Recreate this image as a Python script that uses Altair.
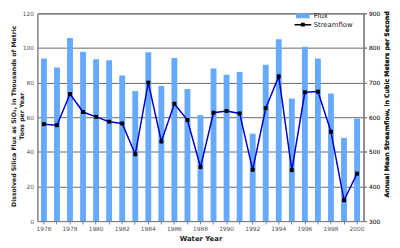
import altair as alt
import pandas as pd

years = list(range(1976, 2001))
flux = [94.0, 88.7, 105.8, 97.9, 93.5, 92.9, 84.1, 75.2, 97.5, 78.0, 94.2, 76.3,
        61.2, 88.1, 84.6, 86.1, 50.5, 90.3, 105.1, 70.8, 100.7, 94.0, 73.7, 48.1, 59.2]
streamflow = [580, 577, 667, 615, 601, 587, 582, 493, 700, 530, 639, 592,
              456, 613, 618, 611, 448, 626, 718, 447, 672, 674, 558, 360, 437]
series = ["Flux", "Streamflow"]

df = pd.DataFrame({"year": years, "flux": flux, "streamflow": streamflow})
leg = pd.DataFrame({"series": series})

FONT = "DejaVu Sans"
H = 212

x = alt.X("year:O", scale=alt.Scale(paddingInner=0.55, paddingOuter=0.275),
          axis=alt.Axis(title="Water Year", labelAngle=0,
                        labelExpr="datum.value % 2 == 0 ? datum.label : ''",
                        tickSize=3, labelPadding=2, titlePadding=3, titleFontSize=7,
                        domainColor="#808080", tickColor="#808080"))

bars = alt.Chart(df).mark_bar(color="#66aaff").encode(
    x=x,
    y=alt.Y("flux:Q", scale=alt.Scale(domain=[0, 120]),
            axis=alt.Axis(title=["Dissolved Silica Flux as SiO₂, in Thousands of Metric",
                                 "Tons per Year"],
                          values=[0, 20, 40, 60, 80, 100, 120], grid=True,
                          gridColor="#666666", gridWidth=1, ticks=False,
                          labelPadding=4, titleX=-21, titleY=104.5,
                          titleBaseline="bottom", titleAngle=270, titleLineHeight=8,
                          domainColor="#808080")),
)

yr = alt.Y("streamflow:Q", scale=alt.Scale(domain=[300, 900]),
           axis=alt.Axis(orient="right", title="Annual Mean Streamflow, in Cubic Meters per Second",
                         values=[300, 400, 500, 600, 700, 800, 900], grid=False,
                         tickSize=3, labelPadding=2, titleAngle=270,
                         titleX=23, titleY=92.5, titleBaseline="middle",
                         tickColor="#808080", domainColor="#808080"))

line = alt.Chart(df).mark_line(color="#0000cc", strokeWidth=1.5).encode(x=x, y=yr)
pts = alt.Chart(df).mark_point(shape="square", filled=True, color="#000000",
                               size=16, opacity=1).encode(x=x, y=yr)

legend_layer = alt.Chart(leg).mark_point(filled=True, opacity=1).encode(
    color=alt.Color("series:N",
                    scale=alt.Scale(domain=series, range=["#66aaff", "#000000"]),
                    legend=alt.Legend(title=None, orient="none", legendX=265, legendY=-3.5,
                                      symbolSize=100, labelFontSize=7, labelFont=FONT,
                                      labelColor="#222222", rowPadding=0, labelOffset=5,
                                      padding=0)),
    shape=alt.Shape("series:N",
                    scale=alt.Scale(domain=series,
                                    range=["M-1.4,-0.5H1.4V0.5H-1.4Z",
                                           "M-1.7,-0.15H1.7V0.15H-1.7Z M-0.4,-0.4H0.4V0.4H-0.4Z"]),
                    legend=None),
).transform_filter("false")

chart = alt.layer(bars, line, pts, legend_layer).resolve_scale(y="independent").properties(
    width=333, height=H,
    autosize=alt.AutoSizeParams(type="none"),
    padding={"left": 30, "top": 3, "right": 29, "bottom": 240 - 3 - H},
    background="white",
).configure_view(fill="#cccccc", stroke="#808080", strokeWidth=1).configure_axis(
    labelFont=FONT, labelFontSize=6, labelColor="#555555",
    titleFont=FONT, titleFontSize=6.3, titleFontWeight="bold", titleColor="#222222",
)

chart.save("out.html", embed_options={"renderer": "svg", "actions": False})
